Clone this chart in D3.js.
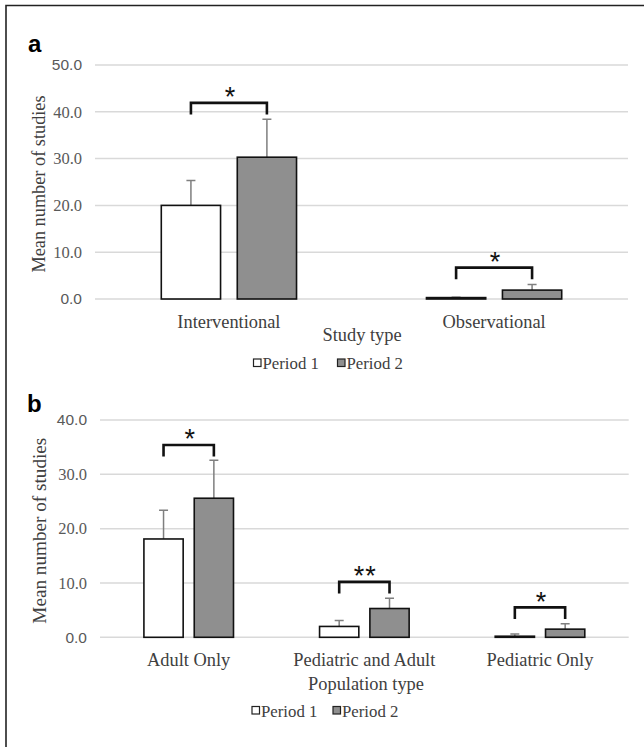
<!DOCTYPE html>
<html lang="en">
<head>
    <meta charset="UTF-8">
    <title>Mean number of studies by study type and population type</title>
    <style>
        body { margin: 0; background: #fff; }
        svg { display: block; }
        .serif { font-family: "Liberation Serif", "Times New Roman", serif; }
        .grid line { stroke: #d9d9d9; stroke-width: 1.5px; }
        .tick-label { fill: #595959; }
        .cat-label { fill: #404040; font-size: 18.4px; }
        .axis-title { fill: #404040; font-size: 18.4px; }
        .legend-text { fill: #404040; font-size: 16.8px; }
        .bar { stroke: #111; stroke-width: 1.6px; }
        .err { stroke: #7f7f7f; stroke-width: 1.5px; fill: none; }
        .bracket { stroke: #111; stroke-width: 2.6px; fill: none; }
        .star { font-family: "Liberation Sans", Arial, sans-serif; font-size: 27px; fill: #111; }
        .panel-letter { font-family: "Liberation Sans", Arial, sans-serif; font-weight: bold; font-size: 24px; fill: #000; }
    </style>
</head>
<body>
<div id="chart"></div>
<script src="https://d3js.org/d3.v7.min.js"></script>
<script>
// ---- data ----
var periods = ["Period 1", "Period 2"];
var periodFill = ["#ffffff", "#8f8f8f"];

// panel a: study type
var studyTypes = ["Interventional", "Observational"];
var studyP1 = [20.0, 0.3];
var studyP2 = [30.3, 1.9];
var studyErrP1 = [5.3, 0.1];
var studyErrP2 = [8.1, 1.2];
var studySig = ["*", "*"];
var studyBracket = [41.9, 6.7];
var studyTicks = [0, 10, 20, 30, 40, 50];

// panel b: population type
var popTypes = ["Adult Only", "Pediatric and Adult", "Pediatric Only"];
var popP1 = [18.1, 2.0, 0.2];
var popP2 = [25.6, 5.3, 1.5];
var popErrP1 = [5.3, 1.1, 0.4];
var popErrP2 = [7.0, 1.9, 1.0];
var popSig = ["*", "**", "*"];
var popBracket = [35.4, 10.2, 5.5];
var popTicks = [0, 10, 20, 30, 40];

var width = 644, height = 747;
var SERIF = "'Liberation Serif', 'Times New Roman', serif";
var SANS = "'Liberation Sans', Arial, sans-serif";

var svg = d3.select("#chart").append("svg")
    .attr("width", width)
    .attr("height", height);

// figure frame (top and left only)
svg.append("path")
    .attr("d", "M6,747V5.5H644")
    .attr("fill", "none")
    .attr("stroke", "#222")
    .attr("stroke-width", 1.6);

function drawPanel(p) {
    var g = svg.append("g").attr("class", "serif");

    var x0 = d3.scaleBand()
        .domain(p.cats)
        .range([p.left, p.right])
        .paddingInner(0.49)
        .paddingOuter(0.25);

    var x1 = d3.scaleBand()
        .domain(periods)
        .range([0, x0.bandwidth()])
        .paddingInner(0.22);

    var y = d3.scaleLinear()
        .domain([0, d3.max(p.ticks)])
        .range([p.bottom, p.top]);

    // gridlines
    g.append("g").attr("class", "grid")
        .selectAll("line")
        .data(p.ticks)
        .join("line")
        .attr("x1", p.left)
        .attr("x2", p.right)
        .attr("y1", function(d) { return y(d); })
        .attr("y2", function(d) { return y(d); });

    // y axis labels (axis line hidden, like the source)
    var yAxis = d3.axisLeft(y)
        .tickValues(p.ticks)
        .tickFormat(d3.format(".1f"))
        .tickSize(0)
        .tickPadding(0);
    var ya = g.append("g")
        .attr("transform", "translate(" + p.tickX + ",0)")
        .call(yAxis);
    ya.select(".domain").remove();
    ya.selectAll("text")
        .attr("class", "tick-label")
        .attr("fill", null)
        .style("font-family", function(d, i) {
            // top and zero labels are set in a sans face in the original
            return (i === 0 || i === p.ticks.length - 1) ? SANS : SERIF;
        })
        .style("font-size", function(d, i) {
            return (i === 0 || i === p.ticks.length - 1) ? "15.5px" : "16.5px";
        });

    var rows = p.cats.map(function(c, i) {
        return {
            cat: c,
            vals: [p.v1[i], p.v2[i]],
            errs: [p.e1[i], p.e2[i]],
            sig: p.sig[i],
            br: p.br[i]
        };
    });

    var groups = g.append("g").selectAll("g")
        .data(rows)
        .join("g")
        .attr("transform", function(d) { return "translate(" + x0(d.cat) + ",0)"; });

    var bars = groups.selectAll("g.b")
        .data(function(d) {
            return periods.map(function(per, k) {
                return { per: per, k: k, v: d.vals[k], e: d.errs[k] };
            });
        })
        .join("g").attr("class", "b");

    // error bars (plus only), drawn under the bar outline
    bars.append("path")
        .attr("class", "err")
        .attr("d", function(d) {
            var cx = x1(d.per) + x1.bandwidth() / 2;
            var yt = y(d.v + d.e), yb = y(d.v);
            return "M" + cx + "," + yb + "V" + yt + "M" + (cx - 4.5) + "," + yt + "H" + (cx + 4.5);
        });

    bars.append("rect")
        .attr("class", "bar")
        .attr("x", function(d) { return x1(d.per); })
        .attr("width", x1.bandwidth())
        .attr("y", function(d) { return y(d.v); })
        .attr("height", function(d) { return y(0) - y(d.v); })
        .attr("fill", function(d) { return periodFill[d.k]; });

    // significance brackets
    var tickLen = 11.5;
    groups.append("path")
        .attr("class", "bracket")
        .attr("d", function(d) {
            var xa = x1(periods[0]) + x1.bandwidth() / 2;
            var xb = x1(periods[1]) + x1.bandwidth() / 2;
            var yb = y(d.br);
            return "M" + xa + "," + (yb + tickLen) + "V" + yb + "H" + xb + "V" + (yb + tickLen);
        });

    groups.append("text")
        .attr("class", "star")
        .attr("text-anchor", "middle")
        .attr("letter-spacing", function(d) { return d.sig.length > 1 ? "1px" : null; })
        .attr("x", x0.bandwidth() / 2 + 1)
        .attr("y", function(d) { return y(d.br) - 12 + 15.5; })
        .text(function(d) { return d.sig; });

    // category labels
    g.append("g").selectAll("text")
        .data(p.cats)
        .join("text")
        .attr("class", "cat-label")
        .attr("text-anchor", "middle")
        .attr("x", function(d) { return x0(d) + x0.bandwidth() / 2; })
        .attr("y", p.catY)
        .text(function(d) { return d; });

    // axis titles
    g.append("text")
        .attr("class", "axis-title")
        .attr("text-anchor", "middle")
        .attr("x", p.xTitleX)
        .attr("y", p.xTitleY)
        .text(p.xTitle);

    g.append("text")
        .attr("class", "axis-title")
        .attr("text-anchor", "middle")
        .attr("transform", "translate(" + p.yTitleX + "," + ((p.top + p.bottom) / 2 + 2) + ") rotate(-90)")
        .style("font-size", p.yTitleSize)
        .text("Mean number of studies");

    // legend
    var lg = g.append("g").selectAll("g")
        .data(periods)
        .join("g")
        .attr("transform", function(d, i) { return "translate(" + p.legX[i] + "," + p.legY + ")"; });
    lg.append("rect")
        .attr("x", 0.5).attr("y", -4)
        .attr("width", 7.5).attr("height", 7.5)
        .attr("fill", function(d, i) { return periodFill[i]; })
        .attr("stroke", "#222")
        .attr("stroke-width", 1.2);
    lg.append("text")
        .attr("class", "legend-text")
        .attr("x", 9.5)
        .attr("y", 6)
        .text(function(d) { return d; });

    svg.append("text")
        .attr("class", "panel-letter")
        .attr("x", p.letterX)
        .attr("y", p.letterY)
        .text(p.letter);
}

drawPanel({
    letter: "a", letterX: 28, letterY: 52,
    cats: studyTypes, v1: studyP1, v2: studyP2, e1: studyErrP1, e2: studyErrP2,
    sig: studySig, br: studyBracket, ticks: studyTicks,
    left: 95, right: 628, top: 65, bottom: 299, tickX: 82,
    catY: 328, xTitle: "Study type", xTitleX: 362, xTitleY: 341,
    yTitleX: 45, yTitleSize: "18.3px",
    legX: [253, 337], legY: 363
});

drawPanel({
    letter: "b", letterX: 27, letterY: 412,
    cats: popTypes, v1: popP1, v2: popP2, e1: popErrP1, e2: popErrP2,
    sig: popSig, br: popBracket, ticks: popTicks,
    left: 100, right: 628.7, top: 420, bottom: 637.3, tickX: 87,
    catY: 666, xTitle: "Population type", xTitleX: 366, xTitleY: 690,
    yTitleX: 46, yTitleSize: "19.2px",
    legX: [251.5, 332.5], legY: 710.5
});
</script>
</body>
</html>
